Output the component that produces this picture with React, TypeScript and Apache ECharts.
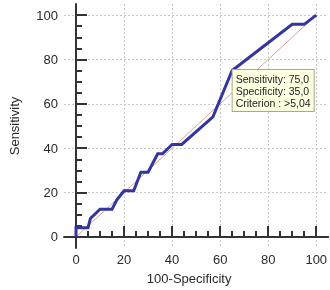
import React, { useEffect, useRef } from "react";
import * as echarts from "echarts";

const fpr = [0, 0, 5, 6, 10, 15, 17, 20, 24, 27, 30, 32, 34, 36, 40, 44, 57, 65, 90, 95, 100];
const tpr = [0, 4.17, 4.17, 8.33, 12.5, 12.5, 16.67, 20.83, 20.83, 29.17, 29.17, 33.33, 37.5, 37.5, 41.67, 41.67, 54.17, 75, 95.83, 95.83, 100];
const diagX = [0, 100];
const diagY = [0, 100];
const majorTicks = [0, 20, 40, 60, 80, 100];
const minorTicks = [5, 10, 15, 25, 30, 35, 45, 50, 55, 65, 70, 75, 85, 90, 95];
const criterionPoint = { fpr: 65, sensitivity: 75, specificity: 35, criterion: ">5,04" };
const xName = "100-Specificity";
const yName = "Sensitivity";

const FONT = "Liberation Sans, Arial, sans-serif";
const TXT = "#2a2a2a";

function minorAxis(pos: string) {
  return {
    type: "value",
    position: pos,
    min: -5,
    max: 105,
    axisLine: { show: true, lineStyle: { color: "#333", width: 2 } },
    axisTick: { show: true, inside: true, length: 6, customValues: minorTicks, lineStyle: { color: "#333", width: 2 } },
    axisLabel: { show: false },
    splitLine: { show: false },
  };
}

function majorAxis(pos: string, isX: boolean) {
  return {
    type: "value",
    position: pos,
    min: -5,
    max: 105,
    name: isX ? xName : yName,
    nameLocation: "middle",
    nameGap: isX ? 24 : 43,
    nameTextStyle: isX
      ? { fontFamily: FONT, fontSize: 13, color: TXT, padding: [0, 14, 0, 0] }
      : { fontFamily: FONT, fontSize: 13, color: TXT },
    axisLine: { show: false },
    axisTick: { show: true, inside: true, length: 11, customValues: majorTicks, lineStyle: { color: "#333", width: 2 } },
    axisLabel: { show: true, customValues: majorTicks, margin: isX ? 5 : 6, fontFamily: FONT, fontSize: 13, color: TXT },
    splitLine: { show: true, lineStyle: { color: "#c8c8c8", width: 1, type: [2, 2] } },
  };
}

export default function App() {
  const ref = useRef<HTMLDivElement>(null);
  useEffect(() => {
    if (!ref.current) return;
    const chart = echarts.init(ref.current, undefined, { renderer: "svg" });
    const label =
      "Sensitivity: " + criterionPoint.sensitivity.toFixed(1).replace(".", ",") +
      "\nSpecificity: " + criterionPoint.specificity.toFixed(1).replace(".", ",") +
      "\nCriterion : " + criterionPoint.criterion;
    chart.setOption({
      animation: false,
      grid: { left: 62, right: 0, top: 4, bottom: 37, containLabel: false },
      xAxis: [minorAxis("bottom"), majorAxis("bottom", true)],
      yAxis: [minorAxis("left"), majorAxis("left", false)],
      series: [
        {
          type: "line",
          data: diagX.map((x, i) => [x, diagY[i]]),
          symbol: "none",
          lineStyle: { color: "#d9a0a0", width: 1 },
          z: 2,
        },
        {
          type: "line",
          data: fpr.map((x, i) => [x, tpr[i]]),
          symbol: "none",
          lineStyle: { color: "#3535a0", width: 3, join: "miter" },
          z: 3,
          markPoint: {
            symbol: "rect",
            symbolSize: 1,
            itemStyle: { color: "rgba(0,0,0,0)" },
            data: [{ coord: [criterionPoint.fpr, criterionPoint.sensitivity] }],
            label: {
              show: true,
              position: [0, 0],
              offset: [1, 0],
              align: "left",
              verticalAlign: "top",
              formatter: label,
              fontFamily: FONT,
              fontSize: 10.5,
              lineHeight: 12,
              color: "#222",
              backgroundColor: "#ffffe1",
              borderColor: "#a8a890",
              borderWidth: 1,
              padding: [3, 3, 2, 3],
            },
          },
        },
      ],
    });
    return () => chart.dispose();
  }, []);
  return <div ref={ref} style={{ position: "fixed", left: 0, top: 0, width: 330, height: 290 }} />;
}
